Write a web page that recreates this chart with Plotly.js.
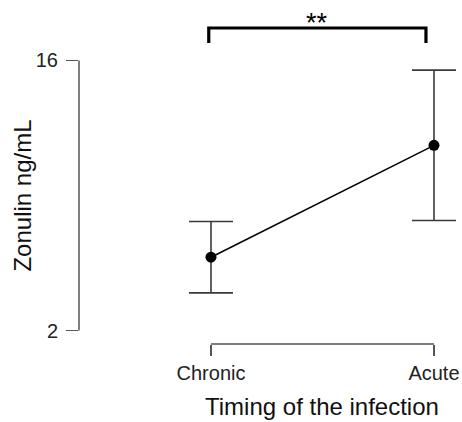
<!DOCTYPE html>
<html>
<head>
<meta charset="utf-8">
<script src="https://cdn.plot.ly/plotly-3.0.1.min.js"></script>
<style>html,body{margin:0;padding:0;background:#fff;}#chart{width:462px;height:422px;}</style>
</head>
<body>
<div id="chart"></div>
<script>
// Data
const categories = ["Chronic", "Acute"];
const meanValues = [5.8, 11.6];
const upperValues = [7.65, 15.5];
const lowerValues = [3.95, 7.7];
const yTickValues = [2, 16];
const yTickLabels = ["2", "16"];
const significanceLabel = "**";
const xTitle = "Timing of the infection";
const yTitle = "Zonulin ng/mL";

const xPos = categories.map((c, i) => i);
const errPlus = upperValues.map((u, i) => u - meanValues[i]);
const errMinus = lowerValues.map((l, i) => meanValues[i] - l);

const font = "Liberation Sans, Arial, sans-serif";

const trace = {
  type: "scatter",
  mode: "lines+markers",
  x: xPos,
  y: meanValues,
  line: {color: "#000", width: 1.5},
  marker: {color: "#000", size: 11},
  error_y: {
    type: "data", symmetric: false,
    array: errPlus, arrayminus: errMinus,
    color: "#3a3a3a", thickness: 1.6, width: 22
  },
  cliponaxis: false,
  hoverinfo: "none"
};

const axisColor = "#555";
const layout = {
  width: 462, height: 422,
  margin: {l: 79, r: 6, t: 10, b: 78},
  paper_bgcolor: "#fff", plot_bgcolor: "#fff",
  showlegend: false,
  font: {family: font, color: "#222", size: 20},
  xaxis: {
    range: [-0.5919, 1.0987],
    tickvals: xPos, ticktext: categories,
    showgrid: false, zeroline: false, showline: false,
    ticks: "outside", ticklen: 11, tickwidth: 1.5, tickcolor: axisColor,
    tickfont: {family: font, size: 20, color: "#222"}
  },
  yaxis: {
    range: [1.3, 18.618],
    tickvals: yTickValues, ticktext: yTickLabels,
    showgrid: false, zeroline: false, showline: false,
    ticks: "outside", ticklen: 12, tickwidth: 1.5, tickcolor: axisColor,
    ticklabelstandoff: 4,
    tickfont: {family: font, size: 20, color: "#222"}
  },
  shapes: [
    // y axis line spanning tick range
    {type: "line", xref: "paper", yref: "y", x0: 0, x1: 0, y0: yTickValues[0], y1: yTickValues[yTickValues.length - 1],
     line: {color: axisColor, width: 1.5}},
    // x axis line spanning categories
    {type: "line", xref: "x", yref: "paper", x0: xPos[0], x1: xPos[xPos.length - 1], y0: 0, y1: 0,
     line: {color: axisColor, width: 1.5}},
    // significance bracket
    {type: "path", xref: "x", yref: "y",
     path: "M -0.01 16.91 L -0.01 17.685 L 0.964 17.685 L 0.964 16.91",
     line: {color: "#000", width: 3.2}}
  ],
  annotations: [
    {text: significanceLabel, xref: "x", yref: "y", x: 0.475, y: 17.97, yanchor: "middle",
     showarrow: false, font: {family: font, size: 27, color: "#000"}},
    {text: xTitle, xref: "x", yref: "paper", x: 0.5, y: -0.1886, yanchor: "middle", xanchor: "center",
     showarrow: false, font: {family: font, size: 24, color: "#111"}},
    {text: yTitle, xref: "paper", yref: "y", x: -0.151, y: 9, textangle: -90, xanchor: "center", yanchor: "middle",
     showarrow: false, font: {family: font, size: 24, color: "#111"}}
  ]
};

Plotly.newPlot("chart", [trace], layout, {staticPlot: true, displayModeBar: false});
</script>
</body>
</html>
